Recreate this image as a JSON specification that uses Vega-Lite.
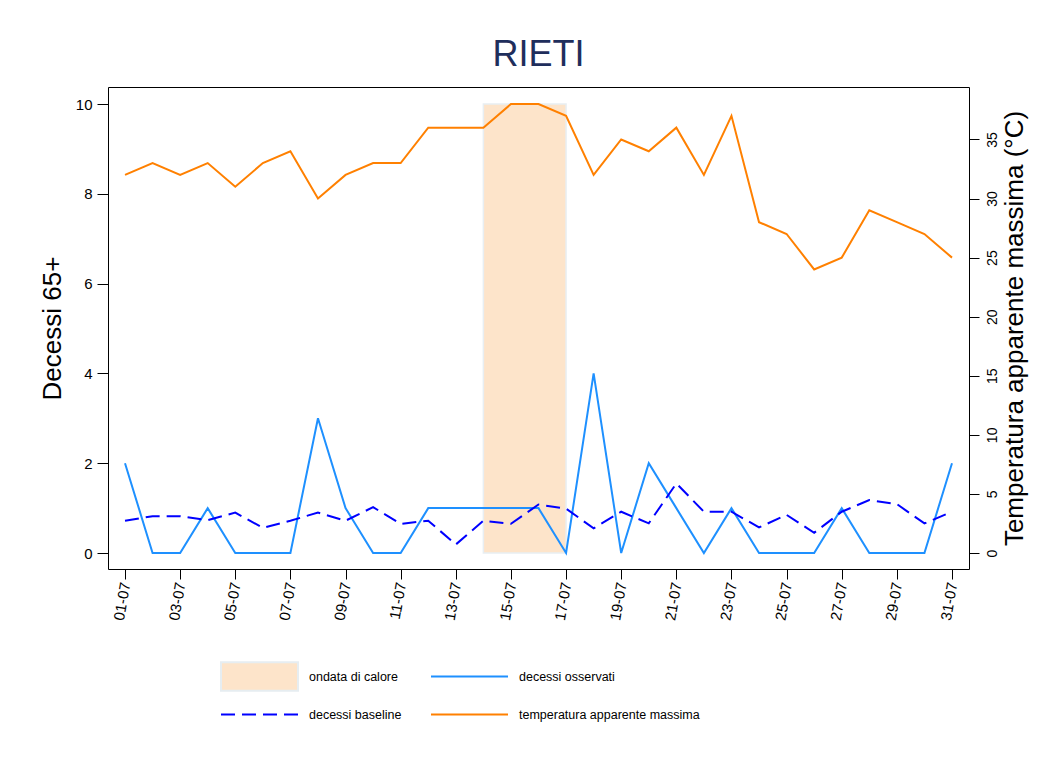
{
  "$schema": "https://vega.github.io/schema/vega-lite/v6.json",
  "autosize": {"type": "none"},
  "padding": {"left": 108, "top": 87, "right": 84, "bottom": 197},
  "width": 861,
  "height": 482,
  "background": "white",
  "title": {
    "text": "RIETI",
    "font": "Liberation Sans",
    "fontSize": 36,
    "fontWeight": "normal",
    "color": "#1f2e5c",
    "anchor": "middle",
    "offset": 13
  },
  "config": {
    "view": {"stroke": "black", "strokeWidth": 1},
    "axis": {
      "domain": false,
      "grid": false,
      "tickColor": "black",
      "tickWidth": 1,
      "labelColor": "black",
      "labelFont": "Liberation Sans",
      "titleFont": "Liberation Sans",
      "titleFontWeight": "normal",
      "titleColor": "black"
    },
    "legend": {
      "title": null,
      "orient": "none",
      "padding": 0,
      "labelFont": "Liberation Sans",
      "labelFontSize": 12.5,
      "labelColor": "black",
      "labelOffset": 10,
      "labelLimit": 400,
      "symbolSize": 5929,
      "symbolStrokeWidth": 2,
      "symbolType": "stroke"
    }
  },
  "datasets": {
    "giorni": [
      {"giorno": 1, "osservati": 2, "baseline": 0.72, "temperatura": 32},
      {"giorno": 2, "osservati": 0, "baseline": 0.82, "temperatura": 33},
      {"giorno": 3, "osservati": 0, "baseline": 0.82, "temperatura": 32},
      {"giorno": 4, "osservati": 1, "baseline": 0.73, "temperatura": 33},
      {"giorno": 5, "osservati": 0, "baseline": 0.9, "temperatura": 31},
      {"giorno": 6, "osservati": 0, "baseline": 0.56, "temperatura": 33},
      {"giorno": 7, "osservati": 0, "baseline": 0.72, "temperatura": 34},
      {"giorno": 8, "osservati": 3, "baseline": 0.9, "temperatura": 30},
      {"giorno": 9, "osservati": 1, "baseline": 0.72, "temperatura": 32},
      {"giorno": 10, "osservati": 0, "baseline": 1.02, "temperatura": 33},
      {"giorno": 11, "osservati": 0, "baseline": 0.65, "temperatura": 33},
      {"giorno": 12, "osservati": 1, "baseline": 0.72, "temperatura": 36},
      {"giorno": 13, "osservati": 1, "baseline": 0.19, "temperatura": 36},
      {"giorno": 14, "osservati": 1, "baseline": 0.72, "temperatura": 36},
      {"giorno": 15, "osservati": 1, "baseline": 0.65, "temperatura": 38},
      {"giorno": 16, "osservati": 1, "baseline": 1.08, "temperatura": 38},
      {"giorno": 17, "osservati": 0, "baseline": 0.99, "temperatura": 37},
      {"giorno": 18, "osservati": 4, "baseline": 0.55, "temperatura": 32},
      {"giorno": 19, "osservati": 0, "baseline": 0.92, "temperatura": 35},
      {"giorno": 20, "osservati": 2, "baseline": 0.66, "temperatura": 34},
      {"giorno": 21, "osservati": 1, "baseline": 1.55, "temperatura": 36},
      {"giorno": 22, "osservati": 0, "baseline": 0.92, "temperatura": 32},
      {"giorno": 23, "osservati": 1, "baseline": 0.92, "temperatura": 37},
      {"giorno": 24, "osservati": 0, "baseline": 0.57, "temperatura": 28},
      {"giorno": 25, "osservati": 0, "baseline": 0.85, "temperatura": 27},
      {"giorno": 26, "osservati": 0, "baseline": 0.45, "temperatura": 24},
      {"giorno": 27, "osservati": 1, "baseline": 0.92, "temperatura": 25},
      {"giorno": 28, "osservati": 0, "baseline": 1.18, "temperatura": 29},
      {"giorno": 29, "osservati": 0, "baseline": 1.09, "temperatura": 28},
      {"giorno": 30, "osservati": 0, "baseline": 0.66, "temperatura": 27},
      {"giorno": 31, "osservati": 2, "baseline": 0.92, "temperatura": 25}
    ],
    "ondata": [{"inizio": 14, "fine": 17}]
  },
  "layer": [
    {
      "layer": [
        {
          "mark": {"type": "rect", "fill": null, "fillOpacity": 0, "stroke": "#e8eff3", "strokeWidth": 1.5},
          "encoding": {
            "x": {"datum": 1, "type": "quantitative", "title": null, "scale": {"domain": [0.383, 31.617], "nice": false, "zero": false}},
            "x2": {"datum": 31},
            "y": {"datum": 0, "type": "quantitative", "title": "Decessi 65+", "scale": {"domain": [-0.356, 10.379], "nice": false, "zero": false}},
            "y2": {"datum": 10}
          }
        },
        {
          "data": {"name": "ondata"},
          "mark": {"type": "rect", "stroke": "#e8eef2", "strokeWidth": 1.5},
          "encoding": {
            "x": {"field": "inizio", "type": "quantitative", "title": null},
            "x2": {"field": "fine"},
            "y": {"datum": 0, "type": "quantitative", "title": "Decessi 65+"},
            "y2": {"datum": 10},
            "fill": {
              "datum": "ondata di calore",
              "type": "nominal",
              "scale": {"domain": ["ondata di calore"], "range": ["#fde4ca"]},
              "legend": {
                "legendX": 112,
                "legendY": 550,
                "symbolType": "M-1,-0.37H1V0.37H-1Z",
                "symbolStrokeColor": "#e6edf1",
                "symbolStrokeWidth": 2
              }
            }
          }
        },
        {
          "data": {"name": "giorni"},
          "mark": {"type": "line", "strokeWidth": 2},
          "encoding": {
            "x": {
              "field": "giorno",
              "type": "quantitative",
              "title": null,
              "axis": {
                "values": [1, 3, 5, 7, 9, 11, 13, 15, 17, 19, 21, 23, 25, 27, 29, 31],
                "labelExpr": "(datum.value < 10 ? '0' : '') + datum.value + '-07'",
                "labelAngle": -80,
                "labelAlign": "right",
                "labelBaseline": "middle",
                "labelFontSize": 15,
                "tickSize": 10,
                "labelPadding": 3
              }
            },
            "y": {
              "field": "osservati",
              "type": "quantitative",
              "title": "Decessi 65+",
              "axis": {
                "values": [0, 2, 4, 6, 8, 10],
                "labelFontSize": 15,
                "tickSize": 11,
                "labelPadding": 5,
                "titleFontSize": 26,
                "titlePadding": 10
              }
            },
            "stroke": {
              "datum": "decessi osservati",
              "type": "nominal",
              "scale": {"domain": ["decessi osservati"], "range": ["#1e90ff"]},
              "legend": {"legendX": 322, "legendY": 550}
            }
          }
        },
        {
          "data": {"name": "giorni"},
          "mark": {"type": "line", "strokeWidth": 2, "stroke": "#0000ff"},
          "encoding": {
            "x": {"field": "giorno", "type": "quantitative", "title": null},
            "y": {"field": "baseline", "type": "quantitative", "title": "Decessi 65+"},
            "strokeDash": {
              "datum": "decessi baseline",
              "type": "nominal",
              "scale": {"domain": ["decessi baseline"], "range": [[14, 7]]},
              "legend": {"legendX": 112, "legendY": 588, "symbolStrokeColor": "#0000ff"}
            }
          }
        }
      ]
    },
    {
      "data": {"name": "giorni"},
      "mark": {"type": "line", "stroke": "#ff8000"},
      "encoding": {
        "x": {"field": "giorno", "type": "quantitative", "title": null},
        "y": {
          "field": "temperatura",
          "type": "quantitative",
          "title": "Temperatura apparente massima (°C)",
          "scale": {"domain": [-1.353, 39.44], "nice": false, "zero": false},
          "axis": {
            "orient": "right",
            "values": [0, 5, 10, 15, 20, 25, 30, 35],
            "labelAngle": -90,
            "labelAlign": "center",
            "labelBaseline": "top",
            "labelFontSize": 14,
            "tickSize": 10,
            "labelPadding": 6,
            "titleFontSize": 26,
            "titleAngle": -90,
            "titleBaseline": "top",
            "titlePadding": 2
          }
        },
        "strokeWidth": {
          "datum": "temperatura apparente massima",
          "type": "ordinal",
          "scale": {"domain": ["temperatura apparente massima"], "range": [2, 2]},
          "legend": {"legendX": 322, "legendY": 588, "symbolStrokeColor": "#ff8000"}
        }
      }
    }
  ],
  "resolve": {"scale": {"y": "independent"}}
}
